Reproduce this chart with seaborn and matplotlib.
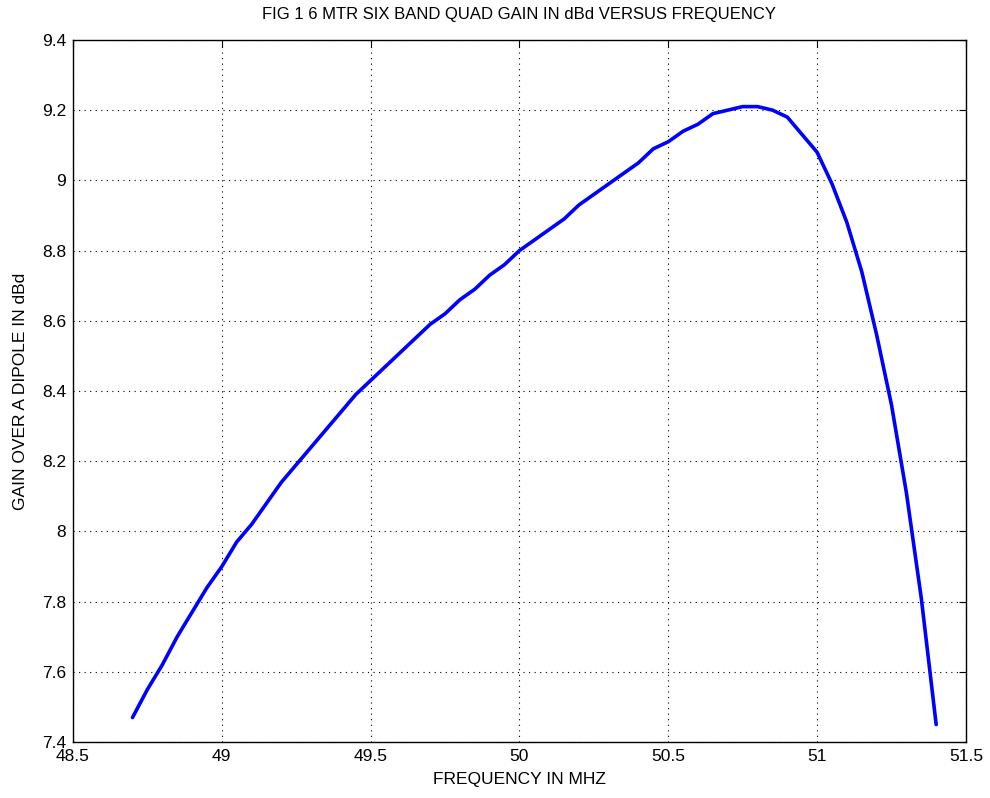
import pandas as pd
import matplotlib
matplotlib.use("Agg")
import matplotlib.pyplot as plt
import seaborn as sns

# frequency in MHz and gain in dBd
freq = [48.70, 48.75, 48.80, 48.85, 48.90, 48.95, 49.00, 49.05, 49.10, 49.15,
        49.20, 49.25, 49.30, 49.35, 49.40, 49.45, 49.50, 49.55, 49.60, 49.65,
        49.70, 49.75, 49.80, 49.85, 49.90, 49.95, 50.00, 50.05, 50.10, 50.15,
        50.20, 50.25, 50.30, 50.35, 50.40, 50.45, 50.50, 50.55, 50.60, 50.65,
        50.70, 50.75, 50.80, 50.85, 50.90, 50.95, 51.00, 51.05, 51.10, 51.15,
        51.20, 51.25, 51.30, 51.35, 51.40]
gain = [7.47, 7.55, 7.62, 7.70, 7.77, 7.84, 7.90, 7.97, 8.02, 8.08,
        8.14, 8.19, 8.24, 8.29, 8.34, 8.39, 8.43, 8.47, 8.51, 8.55,
        8.59, 8.62, 8.66, 8.69, 8.73, 8.76, 8.80, 8.83, 8.86, 8.89,
        8.93, 8.96, 8.99, 9.02, 9.05, 9.09, 9.11, 9.14, 9.16, 9.19,
        9.20, 9.21, 9.21, 9.20, 9.18, 9.13, 9.08, 8.99, 8.88, 8.74,
        8.56, 8.36, 8.11, 7.81, 7.45]

xticks = [48.5, 49, 49.5, 50, 50.5, 51, 51.5]
xtick_labels = ["48.5", "49", "49.5", "50", "50.5", "51", "51.5"]
yticks = [7.4, 7.6, 7.8, 8, 8.2, 8.4, 8.6, 8.8, 9, 9.2, 9.4]
ytick_labels = ["7.4", "7.6", "7.8", "8", "8.2", "8.4", "8.6", "8.8", "9", "9.2", "9.4"]

df = pd.DataFrame({"freq": freq, "gain": gain})

sns.set_style("white")
plt.rcParams["font.family"] = ["Liberation Sans", "DejaVu Sans"]
plt.rcParams["text.color"] = "black"
plt.rcParams["axes.labelcolor"] = "black"

fig = plt.figure(figsize=(9.9, 7.98), dpi=100)
ax = fig.add_axes([0.0737, 0.070, 0.902, 0.880])

sns.lineplot(data=df, x="freq", y="gain", color="#0000ff", linewidth=2.6, ax=ax)

ax.set_xlim(48.5, 51.5)
ax.set_ylim(7.4, 9.4)
ax.set_xticks(xticks)
ax.set_xticklabels(xtick_labels)
ax.set_yticks(yticks)
ax.set_yticklabels(ytick_labels)
ax.tick_params(direction="in", top=True, right=True, length=5, width=0.8,
               labelsize=12.5, colors="black", pad=5)
ax.grid(True, linestyle=(0, (1, 4)), color="black", linewidth=0.8)
for s in ax.spines.values():
    s.set_color("black")
    s.set_linewidth(1.0)

ax.set_title("FIG 1 6 MTR SIX BAND QUAD GAIN IN dBd VERSUS FREQUENCY",
             fontsize=12, color="black", pad=15)
ax.set_xlabel("FREQUENCY IN MHZ", fontsize=12.5, labelpad=6)
ax.set_ylabel("GAIN OVER A DIPOLE IN dBd", fontsize=12.5, labelpad=10)

fig.savefig("out.png", dpi=100)
